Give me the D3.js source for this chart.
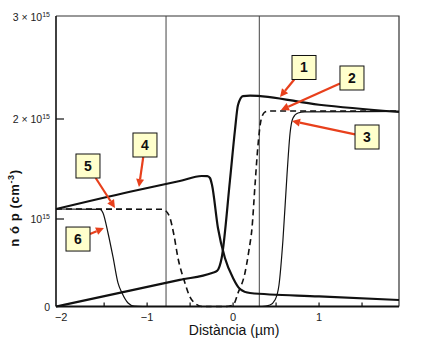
<!DOCTYPE html>
<html>
<head>
<meta charset="utf-8">
<script src="https://cdn.jsdelivr.net/npm/d3@7"></script>
<style>
  body { margin: 0; background: #fff; }
  svg { display: block; }
  text { font-family: "Liberation Sans", Arial, sans-serif; }
</style>
</head>
<body>
<svg id="chart" width="425" height="340"></svg>
<script>
// Electron / hole concentrations across a p-n junction.
// x in µm, concentration in units of 1e15 cm^-3.

const xTickValues = [-2, -1, 0, 1, 2];
const xTickLabels = ["\u22122", "\u22121", "0", "1", "2"];
const xMinorTicks = [-1.5, -1, -0.5, 0, 0.5, 1, 1.5];
const yTickValues = [0, 1, 2, 3];
const yTickMantissa = ["0", "", "2 \u00d7 ", "3 \u00d7 "];
const xExtent = [-2.06, 1.93];
const depletionEdges = [-0.78, 0.305];

// 1: electrons, forward bias
const electronsForward = [
  [-2.06, 0], [-1.2, 0.182], [-0.62, 0.304], [-0.245, 0.383],
  [-0.187, 0.406], [-0.133, 0.554], [-0.036, 1.39], [0.022, 1.89],
  [0.057, 2.137], [0.115, 2.225], [0.197, 2.23], [1.0, 2.14], [1.93, 2.069]
];
// 2: electrons, equilibrium
const electronsEquilibrium = [
  [-0.2, 0], [-0.083, 0], [0, 0.017], [0.057, 0.154], [0.138, 0.383],
  [0.185, 0.646], [0.22, 0.897], [0.255, 1.34], [0.29, 1.74],
  [0.325, 1.99], [0.371, 2.069], [0.429, 2.078], [1.93, 2.078]
];
// 3: electrons, reverse bias
const electronsReverse = [
  [0.25, 0], [0.336, 0], [0.429, 0.017], [0.487, 0.074], [0.534, 0.246],
  [0.58, 0.76], [0.627, 1.44], [0.663, 1.86], [0.697, 2.01],
  [0.755, 2.059], [0.836, 2.069], [1.93, 2.074]
];
// 4: holes, forward bias
const holesForward = [
  [-2.06, 1.10], [-1.2, 1.273], [-0.62, 1.38], [-0.365, 1.43],
  [-0.30, 1.428], [-0.269, 1.41], [-0.245, 1.34], [-0.176, 0.897],
  [-0.095, 0.554], [-0.001, 0.326], [0.080, 0.200], [0.197, 0.154],
  [1.0, 0.115], [1.93, 0.074]
];
// 5: holes, equilibrium
const holesEquilibrium = [
  [-2.06, 1.10], [-0.83, 1.097], [-0.781, 1.08], [-0.734, 1.01],
  [-0.688, 0.817], [-0.641, 0.554], [-0.571, 0.303], [-0.502, 0.109],
  [-0.432, 0.029], [-0.35, 0], [-0.25, 0]
];
// 6: holes, reverse bias
const holesReverse = [
  [-2.06, 1.10], [-1.548, 1.097], [-1.513, 1.06], [-1.455, 0.84],
  [-1.397, 0.566], [-1.339, 0.269], [-1.292, 0.154], [-1.222, 0.04],
  [-1.15, 0.004], [-1.05, 0]
];

// numbered callouts: box centre and arrow tip, both in data units
const callouts = [
  { label: "1", box: [0.825, 2.505], tip: [0.546, 2.216] },
  { label: "2", box: [1.383, 2.402], tip: [0.557, 2.088] },
  { label: "3", box: [1.558, 1.82], tip: [0.685, 1.98] },
  { label: "4", box: [-1.025, 1.74], tip: [-1.095, 1.32] },
  { label: "5", box: [-1.688, 1.53], tip: [-1.374, 1.11] },
  { label: "6", box: [-1.804, 0.771], tip: [-1.502, 0.897] }
];

const svg = d3.select("#chart");
const x = d3.scaleLinear().domain(xExtent).range([56, 399]);
// the printed concentration axis is not evenly spaced, so map each decade mark
const y = d3.scaleLinear().domain(yTickValues).range([306.5, 219, 119, 17]);

const ink = "#111";
const plotLeft = x(xExtent[0]), plotRight = x(xExtent[1]);
const plotTop = y(3) - 1, plotBottom = y(0);

// frame: top and right edges
svg.append("path")
  .attr("d", `M${plotLeft},${plotTop}H${plotRight}V${plotBottom}`)
  .attr("fill", "none").attr("stroke", "#333").attr("stroke-width", 1.2);

// depletion-region edges
svg.selectAll("line.edge").data(depletionEdges).join("line")
  .attr("class", "edge")
  .attr("x1", d => x(d)).attr("x2", d => x(d))
  .attr("y1", plotTop).attr("y2", plotBottom)
  .attr("stroke", "#444").attr("stroke-width", 1);

// curves
const line = d3.line().x(d => x(d[0])).y(d => y(d[1])).curve(d3.curveMonotoneX);
const curves = [
  { data: electronsForward, w: 2.2, dash: null },
  { data: holesForward, w: 2.2, dash: null },
  { data: electronsEquilibrium, w: 1.6, dash: "6,4" },
  { data: holesEquilibrium, w: 1.6, dash: "6,4" },
  { data: electronsReverse, w: 1.2, dash: null },
  { data: holesReverse, w: 1.2, dash: null }
];
svg.append("g").selectAll("path").data(curves).join("path")
  .attr("d", d => line(d.data))
  .attr("fill", "none").attr("stroke", ink)
  .attr("stroke-width", d => d.w)
  .attr("stroke-dasharray", d => d.dash)
  .attr("stroke-linejoin", "round");

// x axis (ticks point inward)
const xAxis = svg.append("g").attr("transform", `translate(0,${plotBottom})`);
xAxis.append("line").attr("x1", plotLeft).attr("x2", plotRight)
  .attr("stroke", ink).attr("stroke-width", 2);
xAxis.selectAll("line.tick").data(xMinorTicks).join("line")
  .attr("class", "tick")
  .attr("x1", d => x(d)).attr("x2", d => x(d))
  .attr("y1", 0).attr("y2", -4)
  .attr("stroke", ink).attr("stroke-width", 1.2);

svg.append("clipPath").attr("id", "xclip")
  .append("rect").attr("x", 0).attr("y", 0).attr("width", plotRight + 2).attr("height", 340);
xAxis.append("g").attr("clip-path", "url(#xclip)")
  .selectAll("text").data(xTickValues).join("text")
  .attr("x", d => x(d)).attr("y", 14.5)
  .attr("text-anchor", "middle")
  .attr("font-size", 11).attr("fill", "#222")
  .text((d, i) => xTickLabels[i]);

// y axis (ticks point inward)
const yAxis = svg.append("g").attr("transform", `translate(${plotLeft},0)`);
yAxis.append("line").attr("y1", plotTop).attr("y2", plotBottom)
  .attr("stroke", ink).attr("stroke-width", 1.6);
yAxis.selectAll("line.tick").data(yTickValues.filter(v => v > 0 && v < 3)).join("line")
  .attr("class", "tick")
  .attr("x1", 0).attr("x2", 8)
  .attr("y1", d => y(d)).attr("y2", d => y(d))
  .attr("stroke", ink).attr("stroke-width", 1.2);

const yLabels = yAxis.selectAll("text").data(yTickValues).join("text")
  .attr("x", -6).attr("y", d => y(d) + 4)
  .attr("text-anchor", "end")
  .attr("font-size", 10.5).attr("fill", "#222");
yLabels.each(function (d, i) {
  const t = d3.select(this);
  if (d === 0) { t.text("0"); return; }
  t.append("tspan").text(yTickMantissa[i] + "10");
  t.append("tspan").attr("dy", -4).attr("font-size", 7).text("15");
});

// axis titles
svg.append("text")
  .attr("x", x(0) + 1).attr("y", 335)
  .attr("text-anchor", "middle").attr("font-size", 14).attr("fill", ink)
  .text("Dist\u00e0ncia (\u00b5m)");

const yTitle = svg.append("text")
  .attr("transform", "translate(19,208) rotate(-90)")
  .attr("text-anchor", "middle").attr("font-size", 13)
  .attr("font-weight", "bold").attr("fill", ink)
  .attr("letter-spacing", 0.6);
yTitle.append("tspan").text("n \u00f3 p (cm");
yTitle.append("tspan").attr("dy", -5).attr("font-size", 9).text("-3");
yTitle.append("tspan").attr("dy", 5).text(")");

// callouts: red arrows from yellow numbered boxes
const boxW = 24, boxH = 24, head = 8, red = "#e8401c";
const cg = svg.append("g");
callouts.forEach(c => {
  const bx = x(c.box[0]), by = y(c.box[1]);
  const tx = x(c.tip[0]), ty = y(c.tip[1]);
  const dx = tx - bx, dy = ty - by;
  const len = Math.hypot(dx, dy);
  const ux = dx / len, uy = dy / len;
  // leave the box edge
  const s = Math.min(
    Math.abs(dx) > 1e-6 ? (boxW / 2) / Math.abs(dx) : Infinity,
    Math.abs(dy) > 1e-6 ? (boxH / 2) / Math.abs(dy) : Infinity
  );
  const sx = bx + dx * s, sy = by + dy * s;
  const hx = tx - ux * head, hy = ty - uy * head;
  cg.append("line")
    .attr("x1", sx).attr("y1", sy).attr("x2", hx).attr("y2", hy)
    .attr("stroke", red).attr("stroke-width", 2.2);
  const px = -uy, py = ux;
  cg.append("path")
    .attr("d", `M${tx},${ty}L${hx + px * 4},${hy + py * 4}L${hx - px * 4},${hy - py * 4}Z`)
    .attr("fill", red);
  cg.append("rect")
    .attr("x", bx - boxW / 2).attr("y", by - boxH / 2)
    .attr("width", boxW).attr("height", boxH)
    .attr("fill", "#ffffcc").attr("stroke", ink).attr("stroke-width", 1);
  cg.append("text")
    .attr("x", bx).attr("y", by + 5)
    .attr("text-anchor", "middle").attr("font-size", 14)
    .attr("font-weight", "bold").attr("fill", ink)
    .text(c.label);
});
</script>
</body>
</html>
